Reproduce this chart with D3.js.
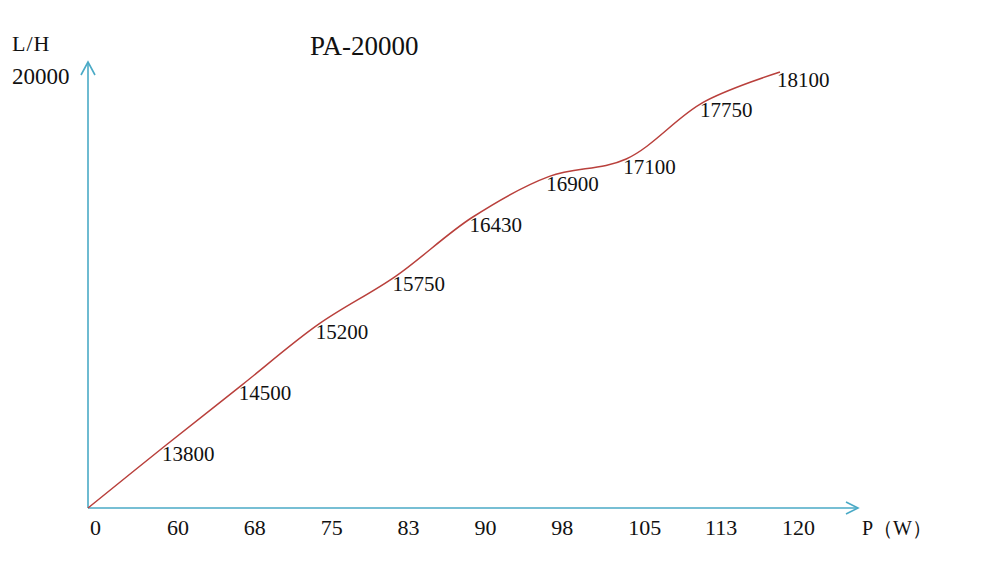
<!DOCTYPE html>
<html>
<head>
<meta charset="utf-8">
<script src="https://cdn.jsdelivr.net/npm/d3@7"></script>
<style>
  body { margin: 0; background: #fff; }
  text { font-family: "Liberation Serif", "DejaVu Serif", serif; fill: #111; }
</style>
</head>
<body>
<svg></svg>
<script>
// power (W) categories along the bottom
var power = ["0", "60", "68", "75", "83", "90", "98", "105", "113", "120"];
// flow (L/H) at each power
var flow = [0, 13800, 14500, 15200, 15750, 16430, 16900, 17100, 17750, 18100];
var yMaxLabel = "20000";
var title = "PA-20000";

var width = 1000, height = 567;
var origin = {x: 88, y: 508};
var axisColor = "#4aaac6";
var lineColor = "#b9403c";

var svg = d3.select("svg")
    .attr("width", width)
    .attr("height", height);

// x: evenly spaced categories
var x = d3.scalePoint()
  .domain(power)
  .range([origin.x, 780]);

// y: axis is broken between 0 and the first reading, linear after it
var y = d3.scaleLinear()
  .domain([0, flow[1], d3.max(flow)])
  .range([origin.y, 446, 72]);

// axes with open arrow heads
var axes = svg.append("g")
    .attr("stroke", axisColor)
    .attr("stroke-width", 1.6)
    .attr("fill", "none");

axes.append("line")
    .attr("x1", origin.x).attr("y1", origin.y)
    .attr("x2", origin.x).attr("y2", 62);
axes.append("path")
    .attr("d", "M" + (origin.x - 7) + ",75L" + origin.x + ",62L" + (origin.x + 7) + ",75");

axes.append("line")
    .attr("x1", origin.x).attr("y1", origin.y)
    .attr("x2", 858).attr("y2", origin.y);
axes.append("path")
    .attr("d", "M846," + (origin.y - 6) + "L858," + origin.y + "L846," + (origin.y + 6));

// x tick labels
svg.append("g")
  .selectAll("text")
  .data(power)
  .enter()
  .append("text")
    .attr("x", function(d) { return x(d) + 2; })
    .attr("y", origin.y + 27)
    .style("font-size", "22px")
    .text(function(d) { return d; });

// the curve
var pts = power.map(function(p, i) { return {p: p, v: flow[i]}; });

var line = d3.line()
  .x(function(d) { return x(d.p); })
  .y(function(d) { return y(d.v); })
  .curve(d3.curveCatmullRom.alpha(0.5));

svg.append("path")
    .datum(pts)
    .attr("fill", "none")
    .attr("stroke", lineColor)
    .attr("stroke-width", 1.5)
    .attr("d", line);

// value labels next to the points
svg.append("g")
  .selectAll("text")
  .data(pts.slice(1))
  .enter()
  .append("text")
    .attr("x", function(d) { return x(d.p) - 3; })
    .attr("y", function(d) { return y(d.v) + 15; })
    .style("font-size", "21px")
    .text(function(d) { return d.v; });

// axis titles and chart title
svg.append("text")
    .attr("x", 12).attr("y", 51)
    .style("font-size", "22px")
    .style("letter-spacing", "1px")
    .text("L/H");

svg.append("text")
    .attr("x", 12).attr("y", 84)
    .style("font-size", "23px")
    .text(yMaxLabel);

svg.append("text")
    .attr("x", 862).attr("y", 535)
    .style("font-size", "20px")
    .text("P（W）");

svg.append("text")
    .attr("x", 310).attr("y", 55)
    .style("font-size", "27px")
    .text(title);
</script>
</body>
</html>
